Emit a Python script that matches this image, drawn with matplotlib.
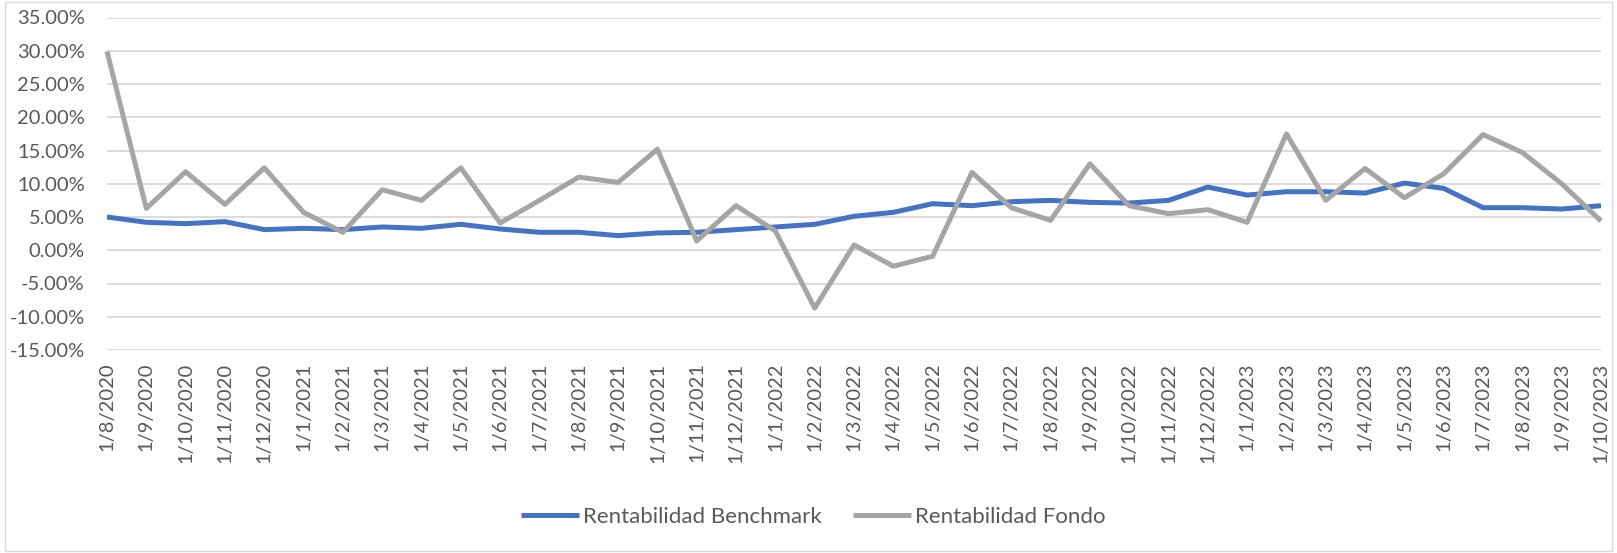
import matplotlib
matplotlib.use("Agg")
import matplotlib.pyplot as plt
from matplotlib.ticker import FuncFormatter, MultipleLocator
from matplotlib.patches import Rectangle

plt.rcParams['font.family'] = ['Lato', 'DejaVu Sans']

dates = ["1/8/2020", "1/9/2020", "1/10/2020", "1/11/2020", "1/12/2020",
         "1/1/2021", "1/2/2021", "1/3/2021", "1/4/2021", "1/5/2021", "1/6/2021",
         "1/7/2021", "1/8/2021", "1/9/2021", "1/10/2021", "1/11/2021", "1/12/2021",
         "1/1/2022", "1/2/2022", "1/3/2022", "1/4/2022", "1/5/2022", "1/6/2022",
         "1/7/2022", "1/8/2022", "1/9/2022", "1/10/2022", "1/11/2022", "1/12/2022",
         "1/1/2023", "1/2/2023", "1/3/2023", "1/4/2023", "1/5/2023", "1/6/2023",
         "1/7/2023", "1/8/2023", "1/9/2023", "1/10/2023"]

benchmark = [5.0, 4.2, 4.0, 4.3, 3.1, 3.3, 3.1, 3.5, 3.3, 3.9,
             3.2, 2.7, 2.7, 2.2, 2.6, 2.7, 3.1, 3.5, 3.9, 5.1,
             5.7, 7.0, 6.7, 7.3, 7.5, 7.2, 7.1, 7.5, 9.5, 8.3,
             8.8, 8.8, 8.6, 10.1, 9.3, 6.4, 6.4, 6.2, 6.7]

fondo = [29.9, 6.3, 11.8, 6.9, 12.4, 5.7, 2.7, 9.1, 7.5, 12.4,
         4.1, 7.5, 11.0, 10.2, 15.2, 1.4, 6.7, 2.9, -8.7, 0.8,
         -2.4, -0.9, 11.7, 6.4, 4.5, 13.0, 6.7, 5.5, 6.1, 4.2,
         17.5, 7.5, 12.3, 7.9, 11.5, 17.4, 14.7, 10.0, 4.4]

series_names = ["Rentabilidad Benchmark", "Rentabilidad Fondo"]

W, H = 1617, 553
fig = plt.figure(figsize=(W / 100, H / 100), dpi=100)
fig.patch.set_facecolor("white")

# chart border
fig.patches.append(Rectangle((5 / W, 2 / H), (1612 - 5) / W, (551 - 2) / H,
                             transform=fig.transFigure, fill=False,
                             edgecolor="#d9d9d9", linewidth=1.0))

left, right = 107 / W, 1601 / W
top, bottom = 1 - 17.5 / H, 1 - 350 / H
ax = fig.add_axes([left, bottom, right - left, top - bottom])

x = list(range(len(dates)))
ax.plot(x, benchmark, color="#4472C4", linewidth=3.6, solid_joinstyle="round",
        solid_capstyle="butt", clip_on=False, label=series_names[0], zorder=3)
ax.plot(x, fondo, color="#A5A5A5", linewidth=3.6, solid_joinstyle="round",
        solid_capstyle="butt", clip_on=False, label=series_names[1], zorder=4)

ax.set_xlim(0, len(dates) - 1)
ax.set_ylim(-15, 35)
ax.yaxis.set_major_locator(MultipleLocator(5))
ax.yaxis.set_major_formatter(FuncFormatter(lambda v, p: f"{v:.2f}%"))
ax.grid(axis="y", color="#d9d9d9", linewidth=1.3)
ax.set_axisbelow(True)
for s in ax.spines.values():
    s.set_visible(False)

ax.set_xticks(x)
ax.set_xticklabels(dates, rotation=90, va="top", ha="center")
ax.tick_params(axis="x", length=0, pad=9, labelsize=14.5, labelcolor="#595959")
ax.tick_params(axis="y", length=0, pad=16, labelsize=14.5, labelcolor="#595959")

leg = fig.legend(loc="center", bbox_to_anchor=(0.503, 1 - 517 / H), ncol=2,
                 frameon=False, fontsize=16, handlelength=2.6,
                 handletextpad=0.2, columnspacing=1.4)
for t in leg.get_texts():
    t.set_color("#595959")

fig.savefig("out.png", dpi=100, facecolor="white")
